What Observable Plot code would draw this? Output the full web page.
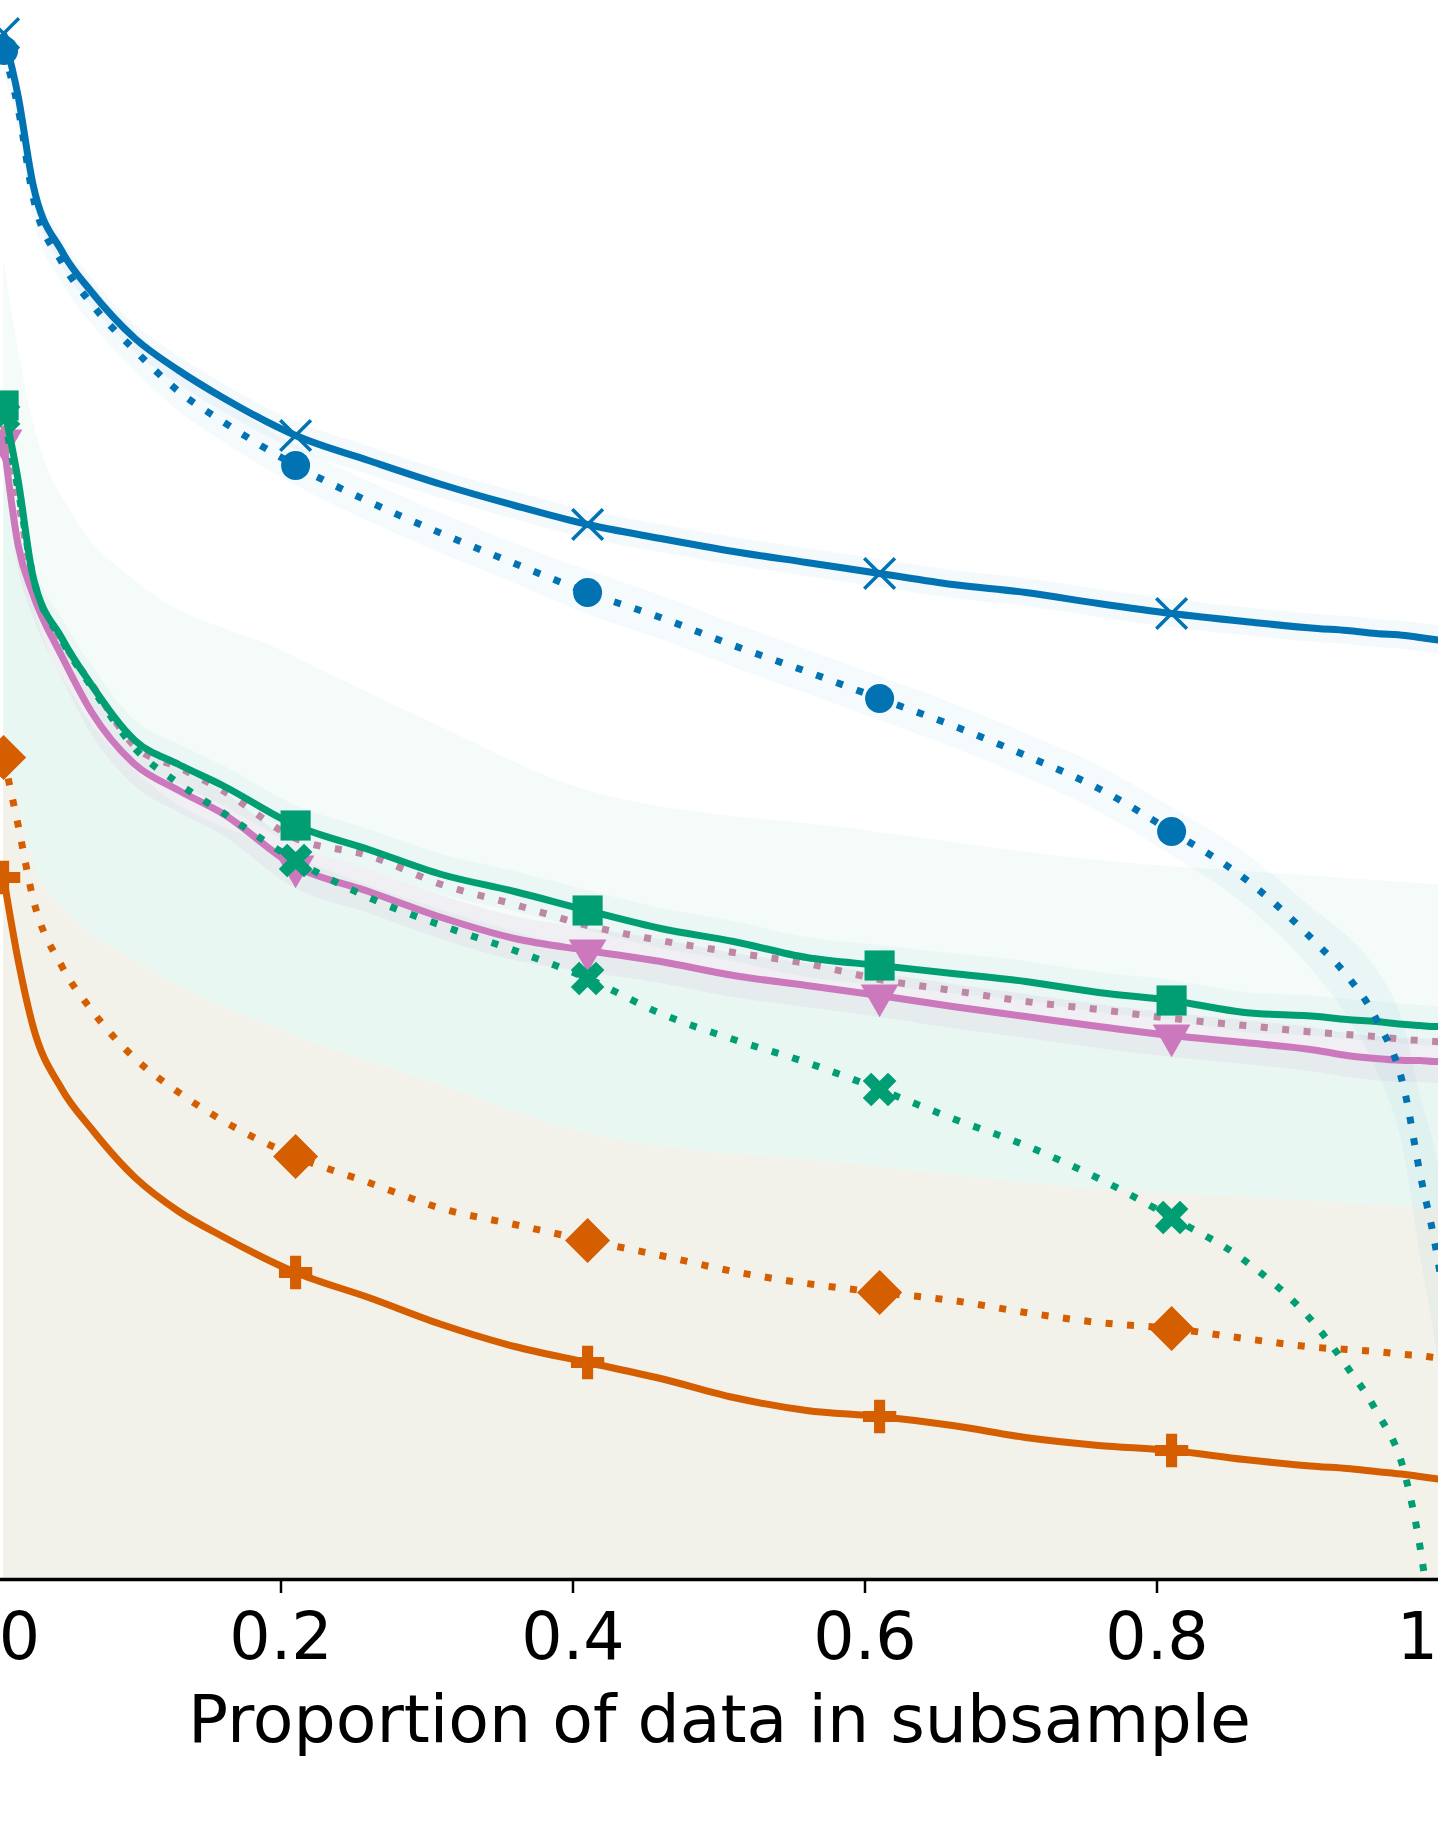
<!DOCTYPE html>
<html><head><meta charset="utf-8">
<script src="https://cdn.jsdelivr.net/npm/d3@7"></script>
<script src="https://cdn.jsdelivr.net/npm/@observablehq/plot@0.6"></script>
<style>body{margin:0;background:#fff}#chart svg{display:block}</style>
</head><body><div id="chart"></div>
<script>
// proportion of data in subsample
const xs = [0.01, 0.02, 0.03, 0.05, 0.07, 0.10, 0.13, 0.16, 0.21, 0.26, 0.31, 0.36, 0.41, 0.46, 0.51, 0.56, 0.61, 0.66, 0.71, 0.76, 0.81, 0.86, 0.91, 0.93, 0.95, 0.97, 0.98, 0.99, 1.00];
const markerXs = [0.01, 0.21, 0.41, 0.61, 0.81];

const blueSolid  = [1.546, 1.483, 1.396, 1.328, 1.288, 1.241, 1.209, 1.182, 1.144, 1.119, 1.095, 1.074, 1.055, 1.041, 1.028, 1.017, 1.006, 0.995, 0.987, 0.976, 0.966, 0.958, 0.951, 0.949, 0.946, 0.944, 0.942, 0.940, 0.938];
const blueDotted = [1.529, 1.471, 1.384, 1.317, 1.276, 1.229, 1.188, 1.158, 1.114, 1.078, 1.046, 1.016, 0.987, 0.962, 0.934, 0.908, 0.881, 0.854, 0.824, 0.791, 0.748, 0.701, 0.635, 0.604, 0.561, 0.486, 0.407, 0.339, 0.249];
const greenSolid = [1.174, 1.099, 1.004, 0.941, 0.895, 0.839, 0.815, 0.794, 0.754, 0.730, 0.705, 0.688, 0.669, 0.651, 0.638, 0.622, 0.614, 0.606, 0.598, 0.587, 0.579, 0.567, 0.563, 0.560, 0.558, 0.555, 0.554, 0.553, 0.553];
const pinkDotted = [1.154, 1.079, 0.999, 0.939, 0.896, 0.833, 0.812, 0.789, 0.741, 0.724, 0.695, 0.675, 0.654, 0.639, 0.627, 0.616, 0.600, 0.589, 0.578, 0.570, 0.561, 0.554, 0.547, 0.545, 0.543, 0.540, 0.539, 0.538, 0.537];
const pinkSolid  = [1.139, 1.034, 0.986, 0.923, 0.868, 0.815, 0.789, 0.766, 0.713, 0.688, 0.662, 0.641, 0.629, 0.618, 0.604, 0.594, 0.584, 0.573, 0.563, 0.553, 0.544, 0.537, 0.529, 0.524, 0.521, 0.519, 0.519, 0.518, 0.518];
const greenDotted = [1.164, 1.089, 1.004, 0.939, 0.893, 0.831, 0.796, 0.767, 0.719, 0.682, 0.654, 0.629, 0.601, 0.566, 0.540, 0.517, 0.490, 0.461, 0.434, 0.401, 0.362, 0.319, 0.252, 0.213, 0.169, 0.104, 0.034, -0.071, -0.181];
const orangeDotted = [0.822, 0.754, 0.682, 0.613, 0.570, 0.521, 0.487, 0.459, 0.423, 0.397, 0.371, 0.355, 0.339, 0.324, 0.308, 0.296, 0.287, 0.279, 0.267, 0.257, 0.251, 0.241, 0.232, 0.230, 0.228, 0.225, 0.224, 0.222, 0.221];
const orangeSolid = [0.702, 0.619, 0.554, 0.490, 0.451, 0.402, 0.368, 0.343, 0.307, 0.282, 0.255, 0.233, 0.217, 0.201, 0.182, 0.169, 0.163, 0.154, 0.142, 0.134, 0.129, 0.120, 0.113, 0.111, 0.108, 0.105, 0.103, 0.101, 0.099];

// confidence half-widths
const blueSolidCi = 0.014;
const blueDottedCi = [0.02, 0.02, 0.02, 0.02, 0.02, 0.02, 0.02, 0.02, 0.02, 0.02, 0.02, 0.02, 0.022, 0.022, 0.022, 0.022, 0.022, 0.022, 0.022, 0.023, 0.024, 0.026, 0.032, 0.04, 0.05, 0.065, 0.08, 0.095, 0.11];
const greenSolidCi = 0.02;
const pinkSolidCi = 0.022;

// wide bands on a coarse grid
const bandXs = [0.01, 0.03, 0.06, 0.10, 0.20, 0.30, 0.41, 0.60, 0.76, 0.90, 1.00];
const outerUpper = [1.319, 1.159, 1.059, 0.999, 0.929, 0.859, 0.789, 0.749, 0.719, 0.704, 0.694];
const innerUpper = [1.139, 0.979, 0.879, 0.809, 0.729, 0.674, 0.629, 0.584, 0.554, 0.529, 0.519];
const lowUpper   = [0.859, 0.719, 0.659, 0.619, 0.549, 0.499, 0.446, 0.414, 0.390, 0.379, 0.369];
const bandFloor = -0.05;

const tickValues = [0.2, 0.4, 0.6, 0.8];
const endLabels = ["0", "1"];
const xLabel = "Proportion of data in subsample";

const C = {blue: "#0173B2", green: "#029E73", pink: "#CC78BC", pinkDot: "#bf86a6", orange: "#D55E00"};

const rows = ys => xs.map((x, i) => ({x, y: ys[i]}));
const bandRows = bandXs.map((x, i) => ({x, outer: outerUpper[i], inner: innerUpper[i], low: lowUpper[i], floor: bandFloor}));

const series = [
  {v: orangeSolid, color: C.orange, dash: null, symbol: "cross", r: 14, rotate: 0},
  {v: orangeDotted, color: C.orange, dash: "7,14.5", symbol: "square", r: 18, rotate: 45},
  {v: pinkSolid, color: C.pink, dash: null, symbol: "triangle", r: 14, rotate: 180},
  {v: pinkDotted, color: C.pinkDot, dash: "7,14.5", symbol: null},
  {v: greenDotted, color: C.green, dash: "7,14.5", symbol: "cross", r: 15, rotate: 45},
  {v: greenSolid, color: C.green, dash: null, symbol: "square", r: 17, rotate: 0},
  {v: blueDotted, color: C.blue, dash: "7,14.5", symbol: "circle", r: 14.5, rotate: 0},
  {v: blueSolid, color: C.blue, dash: null, symbol: "times", r: 14, rotate: 0}
];

const marks = [
  Plot.areaY(bandRows, {x: "x", y1: "floor", y2: "outer", fill: C.green, fillOpacity: 0.045, curve: "monotone-x", clip: true}),
  Plot.areaY(bandRows, {x: "x", y1: "low", y2: "inner", fill: C.green, fillOpacity: 0.045, curve: "monotone-x", clip: true}),
  Plot.areaY(bandRows, {x: "x", y1: "floor", y2: "low", fill: C.orange, fillOpacity: 0.06, curve: "monotone-x", clip: true}),
  Plot.areaY(rows(pinkSolid), {x: "x", y1: d => d.y - pinkSolidCi, y2: d => d.y + pinkSolidCi, fill: C.pink, fillOpacity: 0.09, curve: "monotone-x", clip: true}),
  Plot.areaY(rows(greenSolid), {x: "x", y1: d => d.y - greenSolidCi, y2: d => d.y + greenSolidCi, fill: C.green, fillOpacity: 0.04, curve: "monotone-x", clip: true}),
  Plot.areaY(rows(blueDotted), {x: "x", y1: (d, i) => d.y - blueDottedCi[i], y2: (d, i) => d.y + blueDottedCi[i], fill: C.blue, fillOpacity: 0.04, curve: "monotone-x", clip: true}),
  Plot.areaY(rows(blueSolid), {x: "x", y1: d => d.y - blueSolidCi, y2: d => d.y + blueSolidCi, fill: C.blue, fillOpacity: 0.045, curve: "monotone-x", clip: true})
];

for (const s of series) {
  marks.push(Plot.line(rows(s.v), {x: "x", y: "y", stroke: s.color, strokeWidth: s.dash ? 7 : 7, strokeDasharray: s.dash, strokeLinecap: "butt", strokeLinejoin: "round", curve: "monotone-x", clip: true}));
  if (s.symbol) {
    const pts = rows(s.v).filter(d => markerXs.includes(d.x));
    if (s.symbol === "times") {
      marks.push(Plot.dot(pts, {x: "x", y: "y", symbol: "times", r: s.r, fill: "none", stroke: s.color, strokeWidth: 3.5, clip: true}));
    } else {
      marks.push(Plot.dot(pts, {x: "x", y: "y", symbol: s.symbol, r: s.r, rotate: s.rotate, fill: s.color, stroke: "none", clip: true}));
    }
  }
}

marks.push(Plot.ruleY([0], {stroke: "black", strokeWidth: 3.5}));
marks.push(Plot.axisX({ticks: tickValues, tickSize: 14, tickPadding: 19, fontSize: 65, strokeWidth: 2.5, label: null, tickFormat: d => String(d)}));
marks.push(Plot.text([endLabels[0]], {frameAnchor: "bottom-left", textAnchor: "middle", lineAnchor: "top", dx: 19, dy: 33, fontSize: 65, fill: "black"}));
marks.push(Plot.text([endLabels[1]], {frameAnchor: "bottom-right", textAnchor: "middle", lineAnchor: "top", dx: -21, dy: 33, fontSize: 65, fill: "black"}));
marks.push(Plot.text([xLabel], {frameAnchor: "bottom", textAnchor: "middle", lineAnchor: "top", dy: 115, fontSize: 66.5, fill: "black"}));

const chart = Plot.plot({
  width: 1438,
  height: 1842,
  marginTop: 0, marginBottom: 263, marginLeft: 0, marginRight: 0,
  style: {fontFamily: "DejaVu Sans", background: "white", color: "black"},
  x: {domain: [0.0078767, 0.9928082]},
  y: {domain: [0, 1.579], axis: null},
  marks
});
document.getElementById("chart").appendChild(chart);
</script>
</body></html>
